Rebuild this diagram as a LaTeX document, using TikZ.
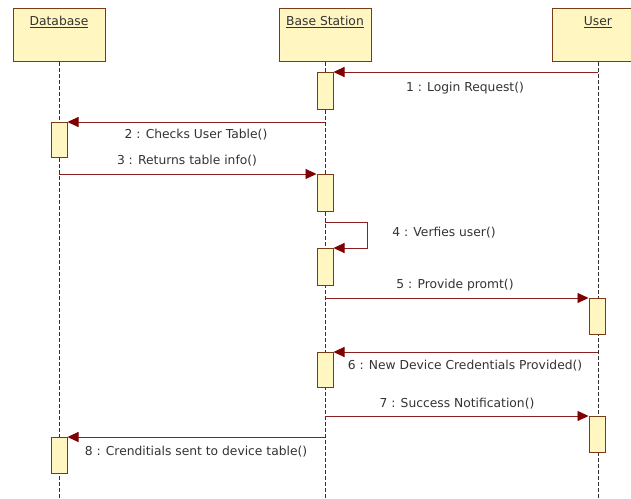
\documentclass[tikz,border=0pt]{standalone}
\usepackage{fontspec}
\setmainfont{DejaVu Sans}
\usetikzlibrary{arrows.meta}
\definecolor{boxfill}{HTML}{FFF6C2}
\definecolor{boxline}{HTML}{7A3A14}
\definecolor{msgline}{HTML}{8A2020}
\definecolor{tipred}{HTML}{7E0000}
\definecolor{lifegray}{HTML}{303030}
\tikzset{
  objbox/.style={draw=boxline, line width=1pt, fill=boxfill, minimum width=92pt,
    minimum height=53pt, anchor=north, inner sep=0pt},
  objname/.style={font=\fontsize{12.3}{14}\selectfont, text=black!80},
  actbox/.style={draw=boxline, line width=1pt, fill=boxfill, minimum width=16pt,
    anchor=north, inner sep=0pt},
  lifeline/.style={draw=lifegray, line width=0.9pt, dash pattern=on 3.5pt off 2.5pt},
  msg/.style={draw=msgline, line width=0.9pt,
    -{Triangle[length=11pt,width=10pt,fill=tipred,color=tipred]}},
  msglabel/.style={font=\fontsize{12.3}{14}\selectfont, text=black!80, inner sep=0pt}
}
\begin{document}
\begin{tikzpicture}[x=1pt,y=-1pt]
  \useasboundingbox[fill=white] (0,0) rectangle (631,498);
  \begin{scope}
  \clip (0,0) rectangle (631,498);

  % object heads
  \node[objbox] (db) at (59,8) {};
  \node[objbox] (bs) at (325,8) {};
  \node[objbox] (us) at (598,8) {};
  \node[objname] (dbname) at (59,22) {\underline{Database}};
  \node[objname] (bsname) at (325,22) {\underline{Base Station}};
  \node[objname] (usname) at (598,22) {\underline{User}};

  % lifelines
  \coordinate (dbend) at (59,498);
  \coordinate (bsend) at (325,498);
  \coordinate (usend) at (598,498);
  \draw[lifeline] (db.south) -- (dbend);
  \draw[lifeline] (bs.south) -- (bsend);
  \draw[lifeline] (us.south) -- (usend);

  % activation bars
  \node[actbox, minimum height=37pt] (ba1) at (325,72) {};
  \node[actbox, minimum height=35pt] (da1) at (59,122) {};
  \node[actbox, minimum height=37pt] (ba2) at (325,174) {};
  \node[actbox, minimum height=37pt] (ba3) at (325,248) {};
  \node[actbox, minimum height=36pt] (ua1) at (597,298) {};
  \node[actbox, minimum height=35pt] (ba4) at (325,352) {};
  \node[actbox, minimum height=36pt] (ua2) at (597,416) {};
  \node[actbox, minimum height=36pt] (da2) at (59,437) {};

  % message start points on the lifelines
  \coordinate (m1) at (598,72);
  \coordinate (m2) at (325,122);
  \coordinate (m3) at (59,174);
  \coordinate (m4) at (325,222);
  \coordinate (m4r) at (367,222);
  \coordinate (m4b) at (367,248);
  \coordinate (m5) at (325,298);
  \coordinate (m6) at (598,352);
  \coordinate (m7) at (325,416);
  \coordinate (m8) at (325,437);

  % messages
  \draw[msg] (m1) -- (ba1.north east);
  \draw[msg] (m2) -- (da1.north east);
  \draw[msg] (m3) -- (ba2.north west);
  \draw[msg] (m4) -- (m4r) -- (m4b) -- (ba3.north east);
  \draw[msg] (m5) -- (ua1.north west);
  \draw[msg] (m6) -- (ba4.north east);
  \draw[msg] (m7) -- (ua2.north west);
  \draw[msg] (m8) -- (da2.north east);

  % message labels
  \node[msglabel] (l1) at (465,88) {1 : Login Request()};
  \node[msglabel] (l2) at (196,135) {2 : Checks User Table()};
  \node[msglabel] (l3) at (187,161) {3 : Returns table info()};
  \node[msglabel] (l4) at (444,233) {4 : Verfies user()};
  \node[msglabel] (l5) at (455,285) {5 : Provide promt()};
  \node[msglabel] (l6) at (465,366) {6 : New Device Credentials Provided()};
  \node[msglabel] (l7) at (457,404) {7 : Success Notification()};
  \node[msglabel] (l8) at (196,452) {8 : Crenditials sent to device table()};
  \end{scope}
\end{tikzpicture}
\end{document}
